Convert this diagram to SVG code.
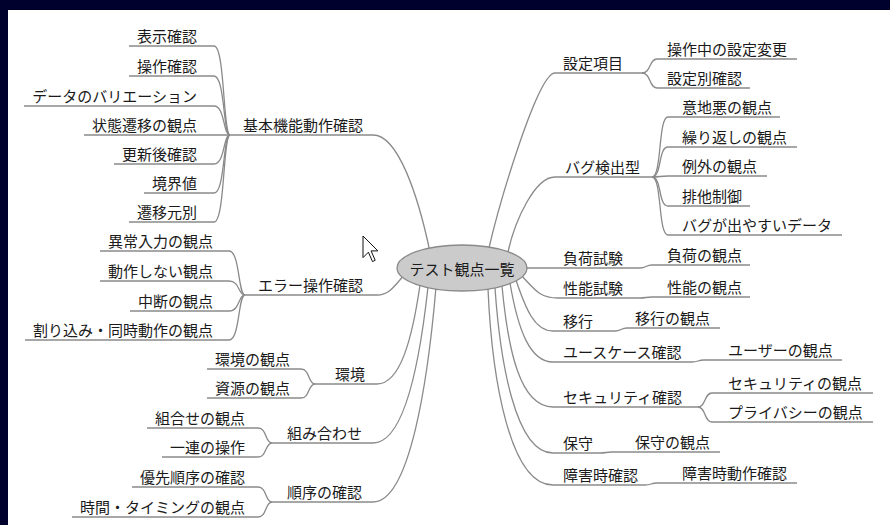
<svg xmlns="http://www.w3.org/2000/svg" width="890" height="525" viewBox="0 0 890 525">
<style>
.ln{fill:none;stroke:#8a8a8a;stroke-width:1.3}
.t{font-family:"Noto Sans CJK JP","Noto Sans CJK SC",sans-serif;font-size:15px;fill:#1a1a1a}
.e{text-anchor:end}
.m{text-anchor:middle}
</style>
<rect x="0" y="0" width="890" height="525" fill="#01012e"/>
<rect x="8" y="10" width="882" height="515" fill="#ffffff"/>
<g id="connectors">
<path class="ln" d="M230,135 H373 C398,135 418,195 430,252"/>
<path class="ln" d="M129,46 H214 C225,46 223,135 230,135"/>
<path class="ln" d="M129,76 H214 C225,76 223,135 230,135"/>
<path class="ln" d="M24,106 H214 C225,106 223,135 230,135"/>
<path class="ln" d="M84,135 H230"/>
<path class="ln" d="M114,164 H214 C225,164 223,135 230,135"/>
<path class="ln" d="M144,193 H214 C225,193 223,135 230,135"/>
<path class="ln" d="M129,222 H214 C225,222 223,135 230,135"/>
<path class="ln" d="M245,295 H377 C390,295 396,284 405,274"/>
<path class="ln" d="M100,251 H229 C240,251 238,295 245,295"/>
<path class="ln" d="M100,281 H229 C240,281 238,295 245,295"/>
<path class="ln" d="M130,311 H229 C240,311 238,295 245,295"/>
<path class="ln" d="M25,340 H229 C240,340 238,295 245,295"/>
<path class="ln" d="M315,384 H377 C400,384 412,340 420,285"/>
<path class="ln" d="M207,369 H301 C310,369 308,384 315,384"/>
<path class="ln" d="M207,398 H301 C310,398 308,384 315,384"/>
<path class="ln" d="M272,443 H373 C405,443 420,360 428,287"/>
<path class="ln" d="M147,428 H258 C267,428 265,443 272,443"/>
<path class="ln" d="M162,457 H258 C267,457 265,443 272,443"/>
<path class="ln" d="M272,502 H373 C410,502 428,380 436,287"/>
<path class="ln" d="M132,487 H258 C267,487 265,502 272,502"/>
<path class="ln" d="M72,517 H258 C267,517 265,502 272,502"/>
<path class="ln" d="M488,252 C500,200 538,73 555,73 H642"/>
<path class="ln" d="M642,73 C651,73 649,59 657,59 H797"/>
<path class="ln" d="M642,73 C651,73 649,88 657,88 H750"/>
<path class="ln" d="M508,252 C515,220 535,177 555,177 H652"/>
<path class="ln" d="M652,177 C662,177 658,117 668,117 H780"/>
<path class="ln" d="M652,177 C662,177 658,147 668,147 H797"/>
<path class="ln" d="M652,177 C660,177 660,176 668,176 H767"/>
<path class="ln" d="M652,177 C662,177 658,206 668,206 H750"/>
<path class="ln" d="M652,177 C662,177 658,235 668,235 H842"/>
<path class="ln" d="M520,268 H640 C646,268 646,265 652,265 H750"/>
<path class="ln" d="M522,276 C535,290 540,298 558,298 H640 C646,298 646,297 652,297 H750"/>
<path class="ln" d="M516,280 C526,310 535,331 553,331 H615 C621,331 621,328 627,328 H720"/>
<path class="ln" d="M510,283 C518,330 530,362 553,362 H692 C698,362 698,360 704,360 H842"/>
<path class="ln" d="M502,286 C508,350 520,407 553,407 H698"/>
<path class="ln" d="M698,407 C706,407 704,393 712,393 H873"/>
<path class="ln" d="M698,407 C706,407 704,422 712,422 H873"/>
<path class="ln" d="M495,288 C500,360 515,453 553,453 H600 C606,453 606,452 612,452 H720"/>
<path class="ln" d="M488,289 C492,380 510,485 553,485 H645 C651,485 651,483 657,483 H797"/>
</g>
<g id="root">
<ellipse cx="462" cy="268" rx="65" ry="23" fill="#cbcbcb" stroke="#8a8a8a" stroke-width="1.3"/>
<text class="t m" x="462" y="275">テスト観点一覧</text>
</g>
<g id="kihon"><text class="t e" x="363" y="131">基本機能動作確認</text></g>
<g id="hyoji"><text class="t e" x="197" y="42">表示確認</text></g>
<g id="sosa"><text class="t e" x="197" y="72">操作確認</text></g>
<g id="data"><text class="t e" x="197" y="102">データのバリエーション</text></g>
<g id="jotai"><text class="t e" x="197" y="131">状態遷移の観点</text></g>
<g id="koshin"><text class="t e" x="197" y="160">更新後確認</text></g>
<g id="kyokai"><text class="t e" x="197" y="189">境界値</text></g>
<g id="senimoto"><text class="t e" x="197" y="218">遷移元別</text></g>
<g id="error"><text class="t e" x="363" y="291">エラー操作確認</text></g>
<g id="ijo"><text class="t e" x="213" y="247">異常入力の観点</text></g>
<g id="dosashinai"><text class="t e" x="213" y="277">動作しない観点</text></g>
<g id="chudan"><text class="t e" x="213" y="307">中断の観点</text></g>
<g id="warikomi"><text class="t e" x="213" y="336">割り込み・同時動作の観点</text></g>
<g id="kankyo"><text class="t e" x="365" y="380">環境</text></g>
<g id="kankyo-kanten"><text class="t e" x="290" y="365">環境の観点</text></g>
<g id="shigen"><text class="t e" x="290" y="394">資源の観点</text></g>
<g id="kumiawase"><text class="t e" x="362" y="439">組み合わせ</text></g>
<g id="kumiawase-kanten"><text class="t e" x="245" y="424">組合せの観点</text></g>
<g id="ichiren"><text class="t e" x="245" y="453">一連の操作</text></g>
<g id="junjo"><text class="t e" x="362" y="498">順序の確認</text></g>
<g id="yusen"><text class="t e" x="245" y="483">優先順序の確認</text></g>
<g id="jikan"><text class="t e" x="245" y="513">時間・タイミングの観点</text></g>
<g id="settei"><text class="t" x="563" y="69">設定項目</text></g>
<g id="sosachu"><text class="t" x="667" y="55">操作中の設定変更</text></g>
<g id="setteibetsu"><text class="t" x="667" y="84">設定別確認</text></g>
<g id="bug"><text class="t" x="565" y="173">バグ検出型</text></g>
<g id="ijiwaru"><text class="t" x="682" y="113">意地悪の観点</text></g>
<g id="kurikaeshi"><text class="t" x="682" y="143">繰り返しの観点</text></g>
<g id="reigai"><text class="t" x="682" y="172">例外の観点</text></g>
<g id="haita"><text class="t" x="682" y="202">排他制御</text></g>
<g id="bugdata"><text class="t" x="682" y="231">バグが出やすいデータ</text></g>
<g id="fuka"><text class="t" x="563" y="264">負荷試験</text></g>
<g id="fuka-kanten"><text class="t" x="667" y="261">負荷の観点</text></g>
<g id="seino"><text class="t" x="563" y="294">性能試験</text></g>
<g id="seino-kanten"><text class="t" x="667" y="293">性能の観点</text></g>
<g id="iko"><text class="t" x="563" y="327">移行</text></g>
<g id="iko-kanten"><text class="t" x="635" y="324">移行の観点</text></g>
<g id="usecase"><text class="t" x="563" y="358">ユースケース確認</text></g>
<g id="user"><text class="t" x="728" y="356">ユーザーの観点</text></g>
<g id="security"><text class="t" x="563" y="403">セキュリティ確認</text></g>
<g id="security-kanten"><text class="t" x="728" y="389">セキュリティの観点</text></g>
<g id="privacy"><text class="t" x="728" y="418">プライバシーの観点</text></g>
<g id="hoshu"><text class="t" x="563" y="449">保守</text></g>
<g id="hoshu-kanten"><text class="t" x="635" y="448">保守の観点</text></g>
<g id="shogai"><text class="t" x="563" y="481">障害時確認</text></g>
<g id="shogai-dosa"><text class="t" x="682" y="479">障害時動作確認</text></g>
<polygon points="363,236 363,257.6 368.4,252.2 372.5,261.6 375.2,260.3 371.1,250.9 377.9,250.9" fill="#ffffff" stroke="#111111" stroke-width="1" stroke-linejoin="round"/>
</svg>
